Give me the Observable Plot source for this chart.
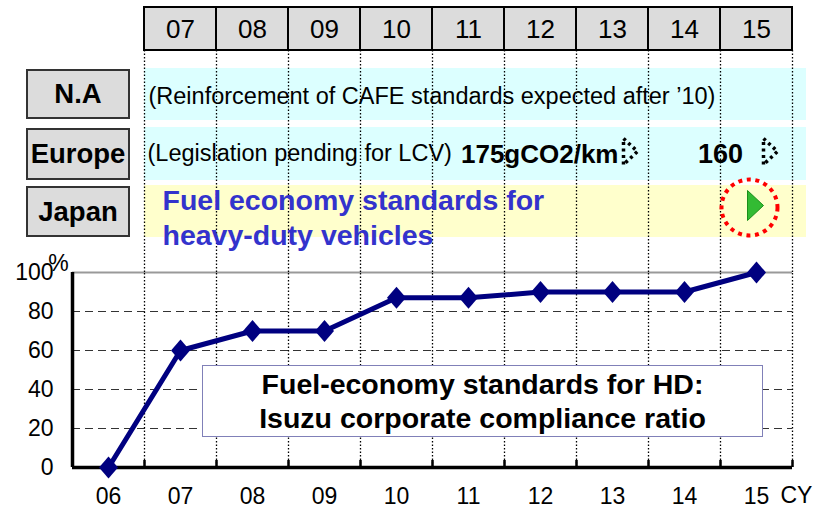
<!DOCTYPE html>
<html>
<head>
<meta charset="utf-8">
<script src="https://cdn.jsdelivr.net/npm/d3@7"></script>
<script src="https://cdn.jsdelivr.net/npm/@observablehq/plot@0.6"></script>
<style>
  html, body { margin: 0; padding: 0; background: white; }
  #wrap { position: relative; width: 824px; height: 515px; font-family: "Liberation Sans", Arial, sans-serif; overflow: hidden; }
  #wrap > svg, #wrap > .layer { position: absolute; left: 0; top: 0; }
  .rowlabel { position: absolute; left: 26px; width: 104px; box-sizing: border-box; border: 2px solid #333; background: #dcdcdc;
    font-weight: bold; font-size: 27.5px; display: flex; align-items: center; justify-content: center; color: #000; }
  #note { position: absolute; left: 202px; top: 365px; width: 561px; height: 72px; box-sizing: border-box; border: 1.5px solid #8080b8;
    background: white; font-weight: bold; font-size: 28.5px; line-height: 34px; text-align: center; display: flex; flex-direction: column; justify-content: center; color: #000; }
</style>
</head>
<body>
<div id="wrap"></div>
<script>
// ---- data ----
const yearLabels = ["06", "07", "08", "09", "10", "11", "12", "13", "14", "15"];
const complianceRatio = [0, 60, 70, 70, 87, 87, 90, 90, 90, 100];
const yTicks = [0, 20, 40, 60, 80, 100];
const headerYears = yearLabels.slice(1);
const rowLabels = ["N.A", "Europe", "Japan"];
const naText = "(Reinforcement of CAFE standards expected after \u201910)";
const euNote = "(Legislation pending for LCV)";
const euTargets = ["175gCO2/km", "160"];
const japanText = ["Fuel economy standards for", "heavy-duty vehicles"];
const noteLines = ["Fuel-economy standards for HD:", "Isuzu corporate compliance ratio"];
const unitLabel = "%";
const xUnit = "CY";

// ---- derived ----
const yearNum = yearLabels.map(Number);
const data = yearNum.map((y, i) => ({year: y, ratio: complianceRatio[i]}));
const bounds = yearNum.map(y => y + 0.5);
const font = "'Liberation Sans', Arial, sans-serif";
const xDomain = [yearNum[0] - 0.5, yearNum[yearNum.length - 1] + 0.5];

const diamond = {draw(c) { c.moveTo(0, -11); c.lineTo(9.5, 0); c.lineTo(0, 11); c.lineTo(-9.5, 0); c.closePath(); }};
const chevron = {draw(c) { c.moveTo(-7, 13); c.lineTo(-7, -13); c.lineTo(7, 0); c.lineTo(-7, 13); }};
const playTri = {draw(c) { c.moveTo(-8, -15); c.lineTo(8, 0); c.lineTo(-8, 15); c.closePath(); }};

// layout (pixels) of the header rows
const rows = [
  {name: "N.A", top: 68, bottom: 120, fill: "#dcffff"},
  {name: "Europe", top: 127, bottom: 180, fill: "#dcffff"},
  {name: "Japan", top: 185, bottom: 237, fill: "#ffffcc"}
];

// ---- main chart ----
const main = Plot.plot({
  width: 824, height: 515,
  marginLeft: 72, marginRight: 32, marginTop: 272, marginBottom: 48,
  x: {type: "linear", domain: xDomain},
  y: {domain: [0, 100]},
  style: {fontFamily: font, fontSize: "23px", background: "transparent", color: "#000", overflow: "visible"},
  marks: [
    Plot.ruleY(yTicks.filter(d => d > 0 && d < 100), {stroke: "#333", strokeWidth: 1.2, strokeDasharray: "8,5"}),
    Plot.ruleY([100], {stroke: "#999", strokeWidth: 2}),
    Plot.ruleX(bounds, {y1: 0, y2: 100, stroke: "#000", strokeWidth: 1.3, strokeDasharray: "1.5,2"}),
    Plot.ruleX(bounds, {y1: 0, y2: 3.6, stroke: "#000", strokeWidth: 2.5}),
    Plot.axisY({ticks: yTicks, tickSize: 0, tickPadding: 19, label: null, fontSize: 23}),
    Plot.axisX({ticks: yearNum, tickSize: 0, tickPadding: 20, label: null, fontSize: 23,
      tickFormat: d => yearLabels[yearNum.indexOf(d)]}),
    Plot.ruleY([0], {stroke: "#000", strokeWidth: 3.5}),
    Plot.ruleX([xDomain[0]], {y1: 0, y2: 100, stroke: "#000", strokeWidth: 3.5}),
    Plot.line(data, {x: "year", y: "ratio", stroke: "#000080", strokeWidth: 5}),
    Plot.dot(data, {x: "year", y: "ratio", symbol: diamond, fill: "#000080", stroke: "none"}),
    Plot.text([unitLabel], {x: xDomain[0], y: 100, dx: -14, dy: -9, fontSize: 23, text: d => d}),
    Plot.text([xUnit], {x: yearNum[yearNum.length - 1], y: 0, dx: 24, dy: 28, textAnchor: "start", fontSize: 23, text: d => d})
  ]
});
document.getElementById("wrap").appendChild(main);

// ---- header table ----
const header = Plot.plot({
  width: 824, height: 272,
  marginLeft: 72, marginRight: 32, marginTop: 0, marginBottom: 0,
  x: {type: "linear", domain: xDomain, axis: null},
  y: {type: "identity", axis: null},
  style: {fontFamily: font, background: "transparent", color: "#000", overflow: "visible"},
  marks: [
    Plot.rect(rows, {x1: bounds[0], x2: xDomain[1], insetRight: -14, y1: "top", y2: "bottom", fill: "fill"}),
    Plot.ruleX(bounds, {y1: 50, y2: 272, stroke: "#000", strokeWidth: 1.3, strokeDasharray: "1.5,2"}),
    Plot.rect(headerYears, {x1: d => +d - 0.5, x2: d => +d + 0.5, y1: 7, y2: 50, fill: "#dcdcdc", stroke: "#000", strokeWidth: 2}),
    Plot.text(headerYears, {x: d => +d, y: 29, text: d => d, fontSize: 26}),
    Plot.text([naText], {x: bounds[0], dx: 4, y: 96, text: d => d, textAnchor: "start", fontSize: 23.5}),
    Plot.text([euNote], {x: bounds[0], dx: 3, y: 153, text: d => d, textAnchor: "start", fontSize: 23.5}),
    Plot.text([euTargets[0]], {x: 13, dx: 6, y: 154, text: d => d, textAnchor: "end", fontSize: 26, fontWeight: "bold"}),
    Plot.text([euTargets[1]], {x: 14.5, y: 154, text: d => d, fontSize: 27, fontWeight: "bold"}),
    Plot.dot([13], {x: d => d, y: 151, dx: 18, symbol: chevron, fill: "none", stroke: "#000", strokeWidth: 3.5, strokeDasharray: "3,3.5"}),
    Plot.dot([15], {x: d => d, y: 151, dx: 14, symbol: chevron, fill: "none", stroke: "#000", strokeWidth: 3.5, strokeDasharray: "3,3.5"}),
    Plot.text([japanText.join("\n")], {x: bounds[0], dx: 18, y: 216, text: d => d, textAnchor: "start", lineAnchor: "middle",
      lineHeight: 1.2, fontSize: 28.5, fontWeight: "bold", fill: "#3333cc"}),
    Plot.dot([15], {x: d => d, dx: -7, y: 207, r: 28, fill: "none", stroke: "#ff0000", strokeWidth: 4, strokeDasharray: "4,4.6"}),
    Plot.dot([15], {x: d => d, dx: -1, y: 205, symbol: playTri, fill: "#33bb33", stroke: "#1a8f1a", strokeWidth: 1})
  ]
});
document.getElementById("wrap").appendChild(header);

// ---- row labels & note ----
const wrap = document.getElementById("wrap");
const labelTops = {"N.A": [69, 119], "Europe": [128, 180], "Japan": [186, 237]};
rowLabels.forEach(name => {
  const d = document.createElement("div");
  d.className = "rowlabel";
  d.style.top = labelTops[name][0] + "px";
  d.style.height = (labelTops[name][1] - labelTops[name][0]) + "px";
  d.textContent = name;
  wrap.appendChild(d);
});
const note = document.createElement("div");
note.id = "note";
noteLines.forEach(t => { const s = document.createElement("div"); s.textContent = t; note.appendChild(s); });
wrap.appendChild(note);
</script>
</body>
</html>
